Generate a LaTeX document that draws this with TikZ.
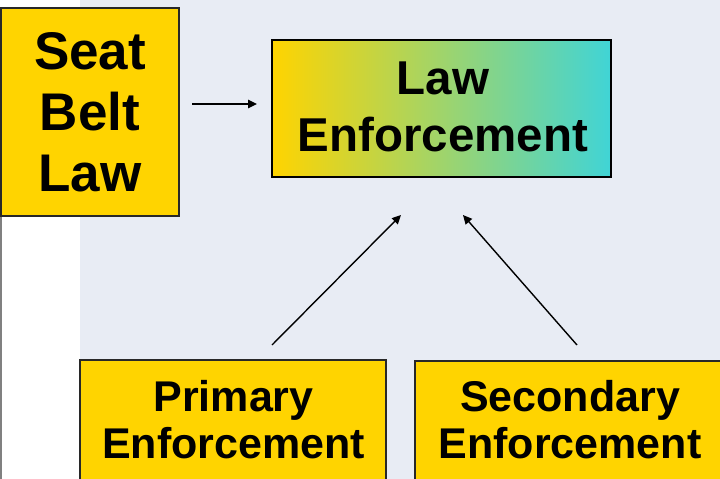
\documentclass[tikz,border=0pt]{standalone}
\usepackage{fontspec}
\setmainfont{Liberation Sans}
\usetikzlibrary{arrows.meta}
\definecolor{bgblue}{RGB}{232,236,244}
\definecolor{gold}{RGB}{255,212,0}
\definecolor{turq}{RGB}{64,212,214}
\definecolor{edgec}{RGB}{40,40,40}
\tikzset{
  goldbox/.style={rectangle, draw=edgec, line width=1.5pt, fill=gold, inner sep=0pt},
  bigtxt/.style={align=center, inner sep=0pt, font=\fontsize{53}{61}\selectfont\bfseries},
  midtxt/.style={align=center, inner sep=0pt, font=\fontsize{47.5}{57}\selectfont\bfseries},
  lowtxt/.style={align=center, inner sep=0pt, font=\fontsize{43}{47}\selectfont\bfseries},
  arr/.style={line width=1.4pt, -{Triangle[length=9pt,width=8.5pt]}}
}
\begin{document}
\begin{tikzpicture}[x=1pt,y=-1pt]
\useasboundingbox (0,0) rectangle (720,479);
\clip (0,0) rectangle (720,479);
\fill[white] (0,0) rectangle (720,479);
\fill[bgblue] (80,0) rectangle (720,479);
\draw[gray, line width=1.2pt] (1,216) -- (1,479);
% boxes
\node[goldbox, minimum width=178pt, minimum height=208pt] (sb) at (90,112) {};
\node[bigtxt] (sbt) at (90,112.5) {Seat\\Belt\\Law};
\node[rectangle, draw=black, line width=1.8pt, left color=gold, right color=turq, inner sep=0pt,
      minimum width=339pt, minimum height=137pt] (le) at (441.5,108.5) {};
\node[midtxt] (let) at (443,107) {Law\\Enforcement};
\node[goldbox, minimum width=306pt, minimum height=140pt] (pe) at (233,430) {};
\node[lowtxt] (pet) at (233.5,420) {Primary\\Enforcement};
\node[goldbox, minimum width=310pt, minimum height=140pt] (se) at (570,431) {};
\node[lowtxt] (set) at (570,420) {Secondary\\Enforcement};
% arrow ends
\coordinate (a1s) at (192,104);
\coordinate (a1e) at (257,104);
\coordinate (a2s) at (272,345);
\coordinate (a2e) at (401,215);
\coordinate (a3s) at (577,345);
\coordinate (a3e) at (463,215);
\draw[arr] (a1s) -- (a1e);
\draw[arr] (a2s) -- (a2e);
\draw[arr] (a3s) -- (a3e);
\end{tikzpicture}
\end{document}
